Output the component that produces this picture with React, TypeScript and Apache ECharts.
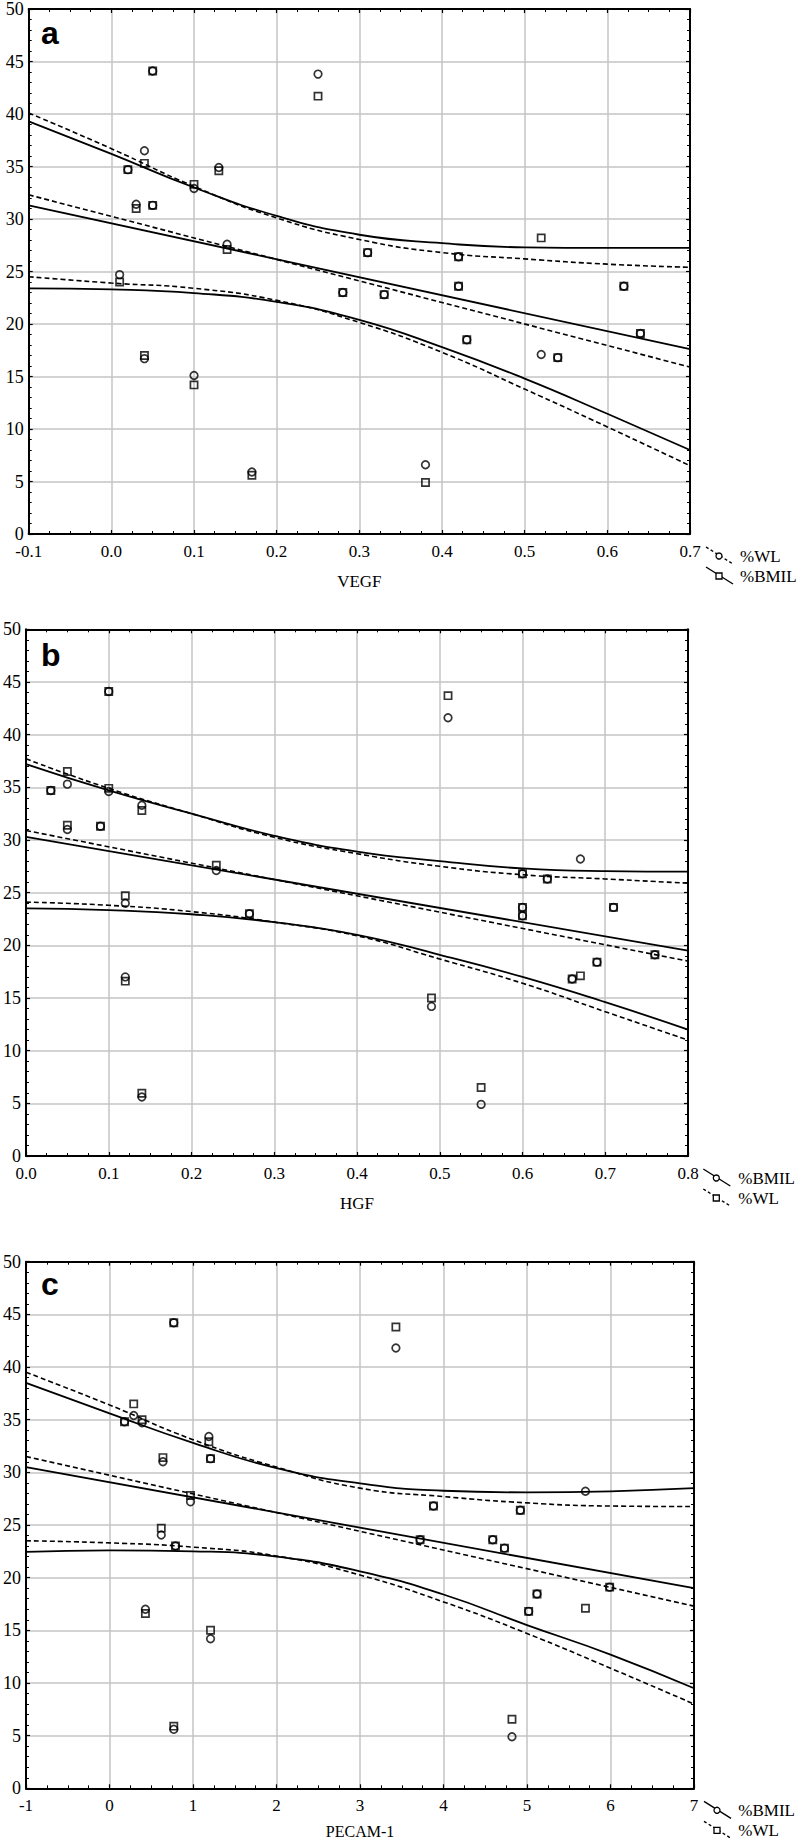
import React, { useEffect, useRef } from "react";
import * as echarts from "echarts";

// ---------- Panel a: VEGF (circles = %WL, squares = %BMIL) ----------
const vegfX = [0.05, 0.25, 0.04, 0.02, 0.03, 0.05, 0.10, 0.13, 0.14, 0.01, 0.31, 0.28, 0.33, 0.42, 0.42, 0.62, 0.43, 0.52, 0.54, 0.64, 0.38, 0.04, 0.10, 0.17];
const vegfWL = [44.1, 43.8, 36.5, 34.7, 31.4, 31.3, 32.9, 34.9, 27.6, 24.7, 26.8, 23.0, 22.8, 26.4, 23.6, 23.6, 18.5, 17.1, 16.8, 19.1, 6.6, 16.7, 15.1, 5.9];
const vegfBMIL = [44.1, 41.7, 35.3, 34.7, 31.0, 31.3, 33.3, 34.6, 27.1, 24.0, 26.8, 23.0, 22.8, 26.4, 23.6, 23.6, 18.5, 28.2, 16.8, 19.1, 4.9, 17.0, 14.2, 5.6];
const vegfBandX = [-0.1, 0.0, 0.1, 0.2, 0.3, 0.4, 0.5, 0.6, 0.7];
const vegfBmilFit = [31.3, 17.6];
const vegfBmilUpper = [39.3, 36.2, 33.0, 30.3, 28.5, 27.7, 27.3, 27.25, 27.25];
const vegfBmilLower = [23.4, 23.3, 22.95, 22.1, 20.4, 17.8, 14.8, 11.45, 8.0];
const vegfWlFit = [32.3, 15.9];
const vegfWlUpper = [40.1, 36.7, 33.1, 30.1, 28.05, 26.8, 26.2, 25.7, 25.4];
const vegfWlLower = [24.5, 23.9, 23.4, 22.25, 20.15, 17.3, 13.8, 10.2, 6.5];

// ---------- Panel b: HGF (circles = %BMIL, squares = %WL) ----------
const hgfX = [0.10, 0.05, 0.03, 0.10, 0.14, 0.05, 0.09, 0.23, 0.12, 0.27, 0.12, 0.14, 0.51, 0.67, 0.60, 0.63, 0.60, 0.60, 0.71, 0.76, 0.69, 0.66, 0.49, 0.55];
const hgfBMIL = [44.1, 35.3, 34.7, 34.6, 33.3, 31.0, 31.3, 27.1, 24.0, 23.0, 17.0, 5.6, 41.6, 28.2, 26.8, 26.3, 23.6, 22.8, 23.6, 19.1, 18.4, 16.8, 14.2, 4.9];
const hgfWL = [44.1, 36.5, 34.7, 34.9, 32.8, 31.4, 31.3, 27.6, 24.7, 23.0, 16.6, 5.95, 43.7, 17.1, 26.8, 26.3, 23.6, 22.8, 23.6, 19.1, 18.4, 16.8, 15.0, 6.5];
const hgfBandX = [0.0, 0.1, 0.2, 0.3, 0.4, 0.5, 0.6, 0.7, 0.8];
const hgfBmilFit = [30.3, 19.5];
const hgfBmilUpper = [37.2, 34.7, 32.5, 30.4, 28.9, 28.0, 27.3, 27.05, 27.0];
const hgfBmilLower = [23.5, 23.35, 22.95, 22.2, 21.0, 19.1, 17.0, 14.6, 12.0];
const hgfWlFit = [30.9, 18.5];
const hgfWlUpper = [37.7, 34.9, 32.5, 30.25, 28.7, 27.5, 26.7, 26.3, 25.9];
const hgfWlLower = [24.1, 23.8, 23.2, 22.2, 20.9, 18.7, 16.4, 13.7, 11.0];

// ---------- Panel c: PECAM-1 (circles = %BMIL, squares = %WL) ----------
const pecamX = [0.77, 3.43, 0.29, 0.18, 0.39, 1.19, 1.21, 0.64, 0.97, 0.62, 0.79, 0.43, 1.21, 0.77, 5.70, 3.88, 4.92, 3.72, 4.59, 4.73, 5.99, 5.12, 5.02, 4.82];
const pecamBMIL = [44.2, 41.8, 35.4, 34.8, 34.7, 33.4, 31.3, 31.0, 27.2, 24.05, 23.0, 17.0, 14.2, 5.6, 28.2, 26.8, 26.4, 23.6, 23.6, 22.8, 19.1, 18.45, 16.8, 4.9];
const pecamWL = [44.2, 43.8, 36.5, 34.8, 35.0, 32.9, 31.3, 31.4, 27.8, 24.7, 23.0, 16.6, 15.0, 5.9, 17.1, 26.8, 26.4, 23.6, 23.6, 22.8, 19.1, 18.45, 16.8, 6.55];
const pecamBandX = [-1, 0, 1, 2, 3, 4, 5, 6, 7];
const pecamBmilFit = [30.5, 19.0];
const pecamBmilUpper = [38.5, 35.6, 32.8, 30.4, 28.95, 28.25, 28.1, 28.2, 28.5];
const pecamBmilLower = [22.45, 22.6, 22.5, 22.0, 20.6, 18.4, 15.5, 12.7, 9.5];
const pecamWlFit = [31.5, 17.3];
const pecamWlUpper = [39.5, 36.4, 33.1, 30.5, 28.5, 27.7, 27.1, 26.8, 26.75];
const pecamWlLower = [23.5, 23.3, 22.9, 22.06, 20.25, 17.7, 14.7, 11.4, 8.0];

const yTicks = { min: 0, max: 50, interval: 5 };

const SERIF = "'Liberation Serif', 'Times New Roman', serif";
const SANS = "'Liberation Sans', Arial, sans-serif";

type Panel = {
  letter: string;
  title: string;
  grid: { left: number; top: number; width: number; height: number };
  xMin: number;
  xMax: number;
  xInterval: number;
  decimals: number;
  x: number[];
  circles: number[];
  squares: number[];
  bandX: number[];
  solidFit: number[];
  solidUpper: number[];
  solidLower: number[];
  dashedFit: number[];
  dashedUpper: number[];
  dashedLower: number[];
  legend: { label: string; dashed: boolean; marker: "circle" | "rect" }[];
  letterY: number;
  legendX: number;
  legendLineX: number;
  titleGap: number;
  titleSize: number;
};

const panels: Panel[] = [
  {
    letter: "a",
    title: "VEGF",
    grid: { left: 28.7, top: 7, width: 661.3, height: 527 },
    xMin: -0.1, xMax: 0.7, xInterval: 0.1, decimals: 1,
    x: vegfX, circles: vegfWL, squares: vegfBMIL,
    bandX: vegfBandX,
    solidFit: vegfBmilFit, solidUpper: vegfBmilUpper, solidLower: vegfBmilLower,
    dashedFit: vegfWlFit, dashedUpper: vegfWlUpper, dashedLower: vegfWlLower,
    legend: [
      { label: "%WL", dashed: true, marker: "circle" },
      { label: "%BMIL", dashed: false, marker: "rect" },
    ],
    letterY: 33,
    legendX: 740,
    legendLineX: 706,
    titleGap: 47,
    titleSize: 17,
  },
  {
    letter: "b",
    title: "HGF",
    grid: { left: 26, top: 629.3, width: 662, height: 526.7 },
    xMin: 0, xMax: 0.8, xInterval: 0.1, decimals: 1,
    x: hgfX, circles: hgfBMIL, squares: hgfWL,
    bandX: hgfBandX,
    solidFit: hgfBmilFit, solidUpper: hgfBmilUpper, solidLower: hgfBmilLower,
    dashedFit: hgfWlFit, dashedUpper: hgfWlUpper, dashedLower: hgfWlLower,
    legend: [
      { label: "%BMIL", dashed: false, marker: "circle" },
      { label: "%WL", dashed: true, marker: "rect" },
    ],
    letterY: 655,
    legendX: 738.3,
    legendLineX: 703.3,
    titleGap: 47,
    titleSize: 17,
  },
  {
    letter: "c",
    title: "PECAM-1",
    grid: { left: 26, top: 1261.7, width: 668, height: 526.6 },
    xMin: -1, xMax: 7, xInterval: 1, decimals: 0,
    x: pecamX, circles: pecamBMIL, squares: pecamWL,
    bandX: pecamBandX,
    solidFit: pecamBmilFit, solidUpper: pecamBmilUpper, solidLower: pecamBmilLower,
    dashedFit: pecamWlFit, dashedUpper: pecamWlUpper, dashedLower: pecamWlLower,
    legend: [
      { label: "%BMIL", dashed: false, marker: "circle" },
      { label: "%WL", dashed: true, marker: "rect" },
    ],
    letterY: 1284,
    legendX: 738.3,
    legendLineX: 704,
    titleGap: 43.5,
    titleSize: 16,
  },
];

function zip(xs: number[], ys: number[]) {
  return xs.map((v, i) => [v, ys[i]]);
}

function buildOption() {
  const grids: any[] = [];
  const xAxes: any[] = [];
  const yAxes: any[] = [];
  const series: any[] = [];
  const graphics: any[] = [];

  panels.forEach((p, i) => {
    grids.push({ ...p.grid, containLabel: false, show: false });

    const common = {
      type: "value",
      gridIndex: i,
      axisLine: { show: true, onZero: false, lineStyle: { color: "#000", width: 2 } },
      axisTick: { show: true, inside: true, length: 4, lineStyle: { color: "#000", width: 1.2 } },
    };
    const xMinor = { show: true, splitNumber: 4, length: 3, lineStyle: { color: "#000", width: 1 } };
    const yMinor = { show: true, splitNumber: 5, length: 3, lineStyle: { color: "#000", width: 1 } };
    xAxes.push({
      ...common,
      position: "bottom",
      min: p.xMin,
      max: p.xMax,
      interval: p.xInterval,
      minorTick: xMinor,
      splitLine: { show: true, lineStyle: { color: "#c4c4c4", width: 1.5 } },
      axisLabel: {
        color: "#000",
        fontFamily: SERIF,
        fontSize: 17,
        margin: 9,
        formatter: (v: number) => v.toFixed(p.decimals),
      },
    });
    xAxes.push({
      ...common,
      position: "top",
      min: p.xMin,
      max: p.xMax,
      interval: p.xInterval,
      minorTick: xMinor,
      splitLine: { show: false },
      axisLabel: { show: false },
    });
    yAxes.push({
      ...common,
      position: "left",
      ...yTicks,
      minorTick: yMinor,
      splitLine: { show: true, lineStyle: { color: "#c4c4c4", width: 1.5 } },
      axisLabel: { color: "#000", fontFamily: SERIF, fontSize: 18, margin: 5 },
    });
    yAxes.push({
      ...common,
      position: "right",
      ...yTicks,
      minorTick: yMinor,
      splitLine: { show: false },
      axisLabel: { show: false },
    });

    const xi = 2 * i;
    const yi = 2 * i;
    const lineBase = {
      type: "line",
      xAxisIndex: xi,
      yAxisIndex: yi,
      symbol: "none",
      silent: true,
      z: 2,
    };
    const solid = { color: "#000", width: 1.8, type: "solid" };
    const dashed = { color: "#000", width: 1.6, type: [5, 3] };
    const ends = [p.bandX[0], p.bandX[p.bandX.length - 1]];

    series.push({ ...lineBase, data: zip(ends, p.solidFit), lineStyle: solid });
    series.push({ ...lineBase, data: zip(p.bandX, p.solidUpper), smooth: 0.5, lineStyle: solid });
    series.push({ ...lineBase, data: zip(p.bandX, p.solidLower), smooth: 0.5, lineStyle: solid });
    series.push({ ...lineBase, data: zip(ends, p.dashedFit), lineStyle: dashed });
    series.push({ ...lineBase, data: zip(p.bandX, p.dashedUpper), smooth: 0.5, lineStyle: dashed });
    series.push({ ...lineBase, data: zip(p.bandX, p.dashedLower), smooth: 0.5, lineStyle: dashed });

    const markerStyle = { color: "rgba(0,0,0,0)", borderColor: "#000", borderWidth: 1.7 };
    series.push({
      type: "scatter",
      xAxisIndex: xi,
      yAxisIndex: yi,
      symbol: "rect",
      symbolSize: 7.2,
      data: zip(p.x, p.squares),
      itemStyle: markerStyle,
      z: 3,
    });
    series.push({
      type: "scatter",
      xAxisIndex: xi,
      yAxisIndex: yi,
      symbol: "circle",
      symbolSize: 7.6,
      data: zip(p.x, p.circles),
      itemStyle: markerStyle,
      z: 3,
    });

    const bottom = p.grid.top + p.grid.height;

    // panel letter
    graphics.push({
      type: "text",
      left: 41,
      top: p.letterY - 16,
      style: { text: p.letter, font: `bold 32px ${SANS}`, fill: "#000" },
    });
    // x-axis title
    graphics.push({
      type: "text",
      x: p.grid.left + p.grid.width / 2,
      y: bottom + p.titleGap,
      style: {
        text: p.title,
        font: `${p.titleSize}px ${SERIF}`,
        fill: "#000",
        align: "center",
        verticalAlign: "middle",
      },
    });
    // legend
    p.legend.forEach((it, k) => {
      const cy = bottom + 22 + k * 20;
      const x1 = p.legendLineX;
      const x2 = x1 + 27;
      const mx = x1 + 13;
      graphics.push({
        type: "line",
        shape: { x1, y1: cy - 9, x2, y2: cy + 8 },
        style: { stroke: "#000", lineWidth: 1.4, lineDash: it.dashed ? [3, 2.5] : null },
      });
      if (it.marker === "circle") {
        graphics.push({
          type: "circle",
          shape: { cx: mx, cy, r: 3 },
          style: { fill: "#fff", stroke: "#000", lineWidth: 1.3 },
        });
      } else {
        graphics.push({
          type: "rect",
          shape: { x: mx - 3, y: cy - 3, width: 6, height: 6 },
          style: { fill: "#fff", stroke: "#000", lineWidth: 1.3 },
        });
      }
      graphics.push({
        type: "text",
        x: p.legendX,
        y: cy,
        style: {
          text: it.label,
          font: `17px ${SERIF}`,
          fill: "#000",
          align: "left",
          verticalAlign: "middle",
        },
      });
    });
  });

  return {
    animation: false,
    backgroundColor: "#fff",
    grid: grids,
    xAxis: xAxes,
    yAxis: yAxes,
    series,
    graphic: graphics,
  };
}

export default function App() {
  const ref = useRef<HTMLDivElement>(null);
  useEffect(() => {
    if (!ref.current) return;
    const chart = echarts.init(ref.current, undefined, { renderer: "svg" });
    chart.setOption(buildOption() as any);
    return () => chart.dispose();
  }, []);
  return (
    <div
      ref={ref}
      style={{ position: "absolute", left: 0, top: 0, width: 797, height: 1842, background: "#fff" }}
    />
  );
}
